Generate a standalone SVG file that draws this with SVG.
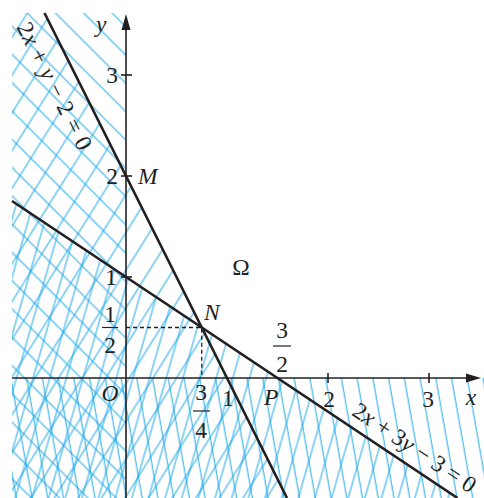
<svg xmlns="http://www.w3.org/2000/svg" width="484" height="498" viewBox="0 0 484 498">
<style>
.h{stroke:#1BA8E8;stroke-width:1;fill:none}
.ax{stroke:#231F20;stroke-width:1.6;fill:none}
.ln{stroke:#231F20;stroke-width:2.6;fill:none}
.ds{stroke:#231F20;stroke-width:1.3;stroke-dasharray:4 3;fill:none}
.t{font-family:"Liberation Serif","Times New Roman",serif;font-size:23.5px;fill:#231F20}
.i{font-style:italic}
.m{text-anchor:middle}
.e{text-anchor:end}
</style>
<defs>
<pattern id="pA" patternUnits="userSpaceOnUse" width="20" height="20" patternTransform="rotate(-45)"><line class="h" x1="10" y1="-1" x2="10" y2="21"/></pattern>
<pattern id="pB" patternUnits="userSpaceOnUse" width="20" height="20" patternTransform="rotate(32)"><line class="h" x1="10" y1="-1" x2="10" y2="21"/></pattern>
<pattern id="pC" patternUnits="userSpaceOnUse" width="16" height="20" patternTransform="rotate(16)"><line class="h" x1="8" y1="-1" x2="8" y2="21"/></pattern>
<pattern id="pD" patternUnits="userSpaceOnUse" width="15.5" height="20" patternTransform="rotate(-10)"><line class="h" x1="7" y1="-1" x2="7" y2="21"/></pattern>
</defs>
<rect width="484" height="498" fill="#FFFFFF"/>
<g id="hatching">
<rect x="12" y="13" width="114" height="485" fill="url(#pA)"/>
<polygon points="12,13 44.5,13 287,498 12,498" fill="url(#pB)"/>
<polygon points="12,201 457.5,498 12,498" fill="url(#pC)"/>
<rect x="12" y="378" width="472" height="120" fill="url(#pD)"/>
</g>
<g id="axes">
<line class="ax" x1="12" y1="378" x2="470" y2="378"/>
<polygon points="481,378 466,373.5 466,382.5" fill="#231F20"/>
<line class="ax" x1="126" y1="498" x2="126" y2="28"/>
<polygon points="126,14 121.5,30 130.5,30" fill="#231F20"/>
<g class="ax">
<line x1="121" y1="75" x2="132" y2="75"/>
<line x1="121" y1="176" x2="132" y2="176"/>
<line x1="121" y1="277" x2="132" y2="277"/>
<line x1="328" y1="373" x2="328" y2="383"/>
<line x1="429" y1="373" x2="429" y2="383"/>
</g>
</g>
<g id="connectors">
<line id="line1" class="ln" x1="44.5" y1="13" x2="287" y2="498"/>
<line id="line2" class="ln" x1="12" y1="201" x2="457.5" y2="498"/>
<polyline class="ds" points="126,327.5 201.75,327.5 201.75,378"/>
</g>
<g id="labels" class="t">
<text class="i" x="96" y="32">y</text>
<text class="e" x="118" y="83">3</text>
<text class="e" x="118" y="184">2</text>
<text class="i" x="138" y="184">M</text>
<text class="e" x="117" y="285">1</text>
<g id="half">
<text class="m" x="110" y="322">1</text>
<line x1="102" y1="327.5" x2="118" y2="327.5" stroke="#231F20" stroke-width="1.2"/>
<text class="m" x="110" y="353">2</text>
</g>
<text class="i" x="204" y="320">N</text>
<text class="m" x="241" y="275">Ω</text>
<g id="threehalves">
<text class="m" x="282" y="338">3</text>
<line x1="273" y1="346" x2="291" y2="346" stroke="#231F20" stroke-width="1.2"/>
<text class="m" x="282" y="372">2</text>
</g>
<text class="i m" x="110" y="401">O</text>
<g id="threequarters">
<text class="m" x="201" y="400">3</text>
<line x1="193" y1="411" x2="210" y2="411" stroke="#231F20" stroke-width="1.2"/>
<text class="m" x="201" y="438">4</text>
</g>
<text class="m" x="228" y="406">1</text>
<text class="i" x="264" y="405">P</text>
<text class="m" x="329" y="407">2</text>
<text class="m" x="428" y="407">3</text>
<text class="i m" x="471" y="405">x</text>
<text transform="translate(16.3,26.9) rotate(63.4)" textLength="140" lengthAdjust="spacing">2<tspan class="i">x</tspan> + <tspan class="i">y</tspan> − 2 = 0</text>
<text transform="translate(350.8,414.5) rotate(33.7)" textLength="143" lengthAdjust="spacing">2<tspan class="i">x</tspan> + 3<tspan class="i">y</tspan> − 3 = 0</text>
</g>
</svg>
